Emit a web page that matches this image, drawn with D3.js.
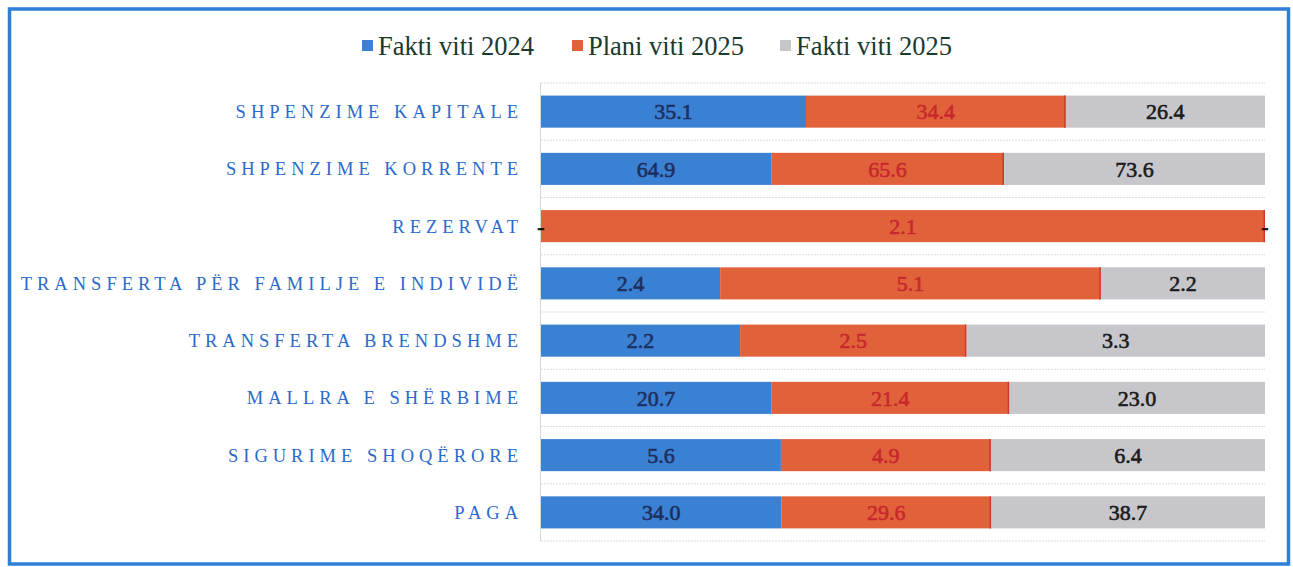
<!DOCTYPE html>
<html>
<head>
<meta charset="utf-8">
<script src="https://cdn.jsdelivr.net/npm/d3@7"></script>
<style>
  html, body { margin: 0; padding: 0; background: #fff; }
  svg { display: block; }
</style>
</head>
<body>
<div id="chart"></div>
<script>
// categories top to bottom
const categories = [
  "SHPENZIME KAPITALE",
  "SHPENZIME KORRENTE",
  "REZERVAT",
  "TRANSFERTA PËR FAMILJE E INDIVIDË",
  "TRANSFERTA BRENDSHME",
  "MALLRA E SHËRBIME",
  "SIGURIME SHOQËRORE",
  "PAGA"
];
const seriesNames = ["Fakti viti 2024", "Plani viti 2025", "Fakti viti 2025"];
const fakti2024 = [35.1, 64.9, 0, 2.4, 2.2, 20.7, 5.6, 34.0];
const plani2025 = [34.4, 65.6, 2.1, 5.1, 2.5, 21.4, 4.9, 29.6];
const fakti2025 = [26.4, 73.6, 0, 2.2, 3.3, 23.0, 6.4, 38.7];

const width = 1293;
const height = 567;
const barColors = ["#3a80d3", "#e1623a", "#c6c6cb"];
const labelColors = ["#1d2f5e", "#c8282c", "#1a1a1a"];
const serif = "'Liberation Serif', 'Times New Roman', serif";

const svg = d3.select('#chart')
  .append('svg')
  .attr('width', width)
  .attr('height', height);

// outer blue frame
svg.append('rect')
  .attr('x', 9.5)
  .attr('y', 9)
  .attr('width', 1279)
  .attr('height', 555)
  .attr('fill', 'none')
  .attr('stroke', '#2f7fd6')
  .attr('stroke-width', 3.5);

const x = d3.scaleLinear().domain([0, 1]).range([541, 1265]);
const y = d3.scaleBand()
  .domain(categories)
  .range([83, 541])
  .paddingInner(0.44)
  .paddingOuter(0.22);

// rows -> stacked shares (100% stacked)
const rows = categories.map((c, i) => {
  const vals = [fakti2024[i], plani2025[i], fakti2025[i]];
  const total = d3.sum(vals);
  let acc = 0;
  return vals.map((v, k) => {
    const seg = { cat: c, k: k, value: v, x0: acc / total, x1: (acc + v) / total };
    acc += v;
    return seg;
  });
});

// faint dotted gridlines between rows
const lines = d3.range(categories.length + 1).map(i => 83 + i * y.step());
svg.append('g')
  .selectAll('line')
  .data(lines)
  .enter()
  .append('line')
  .attr('x1', x(0))
  .attr('x2', x(1))
  .attr('y1', d => d)
  .attr('y2', d => d)
  .attr('stroke', '#dcdce0')
  .attr('stroke-width', 1)
  .attr('stroke-dasharray', '2,1');

svg.append('line')
  .attr('x1', x(0) - 0.5)
  .attr('x2', x(0) - 0.5)
  .attr('y1', 83)
  .attr('y2', 541)
  .attr('stroke', '#d8d8dc');

const segs = rows.flat();

svg.append('g')
  .selectAll('rect')
  .data(segs.filter(d => d.value > 0))
  .enter()
  .append('rect')
  .attr('x', d => x(d.x0))
  .attr('y', d => y(d.cat))
  .attr('width', d => x(d.x1) - x(d.x0))
  .attr('height', y.bandwidth())
  .attr('fill', d => barColors[d.k]);

// thin darker edge on the right of the orange pieces
svg.append('g')
  .selectAll('line')
  .data(segs.filter(d => d.k === 1 && d.value > 0))
  .enter()
  .append('line')
  .attr('x1', d => x(d.x1) - 0.75)
  .attr('x2', d => x(d.x1) - 0.75)
  .attr('y1', d => y(d.cat))
  .attr('y2', d => y(d.cat) + y.bandwidth())
  .attr('stroke', '#cc3a26')
  .attr('stroke-width', 1.5);

// value labels ("-" for empty segments)
svg.append('g')
  .selectAll('text')
  .data(segs)
  .enter()
  .append('text')
  .attr('x', d => (x(d.x0) + x(d.x1)) / 2)
  .attr('y', d => y(d.cat) + y.bandwidth() / 2)
  .attr('dy', '0.35em')
  .attr('text-anchor', 'middle')
  .style('font-family', serif)
  .style('font-size', '22px')
  .attr('fill', d => d.value === 0 ? '#111' : labelColors[d.k])
  .attr('stroke', d => d.value === 0 ? '#111' : labelColors[d.k])
  .attr('stroke-width', 0.6)
  .text(d => d.value === 0 ? '-' : d3.format('.1f')(d.value));

// category labels
svg.append('g')
  .selectAll('text')
  .data(categories)
  .enter()
  .append('text')
  .attr('x', 523)
  .attr('y', d => y(d) + y.bandwidth() / 2)
  .attr('dy', '0.35em')
  .attr('text-anchor', 'end')
  .style('font-family', serif)
  .style('font-size', '18.5px')
  .style('letter-spacing', '5px')
  .attr('fill', '#2a6acb')
  .text(d => d);

// legend
const legendX = [362, 572, 780];
const legend = svg.append('g')
  .selectAll('g')
  .data(seriesNames)
  .enter()
  .append('g')
  .attr('transform', (d, i) => 'translate(' + legendX[i] + ',46)');

legend.append('rect')
  .attr('x', 0)
  .attr('y', -6)
  .attr('width', 11)
  .attr('height', 11)
  .attr('fill', (d, i) => barColors[i]);

legend.append('text')
  .attr('x', 16)
  .attr('y', 0)
  .attr('dy', '0.35em')
  .style('font-family', serif)
  .style('font-size', '26.5px')
  .attr('fill', '#1b3a2e')
  .text(d => d);
</script>
</body>
</html>
